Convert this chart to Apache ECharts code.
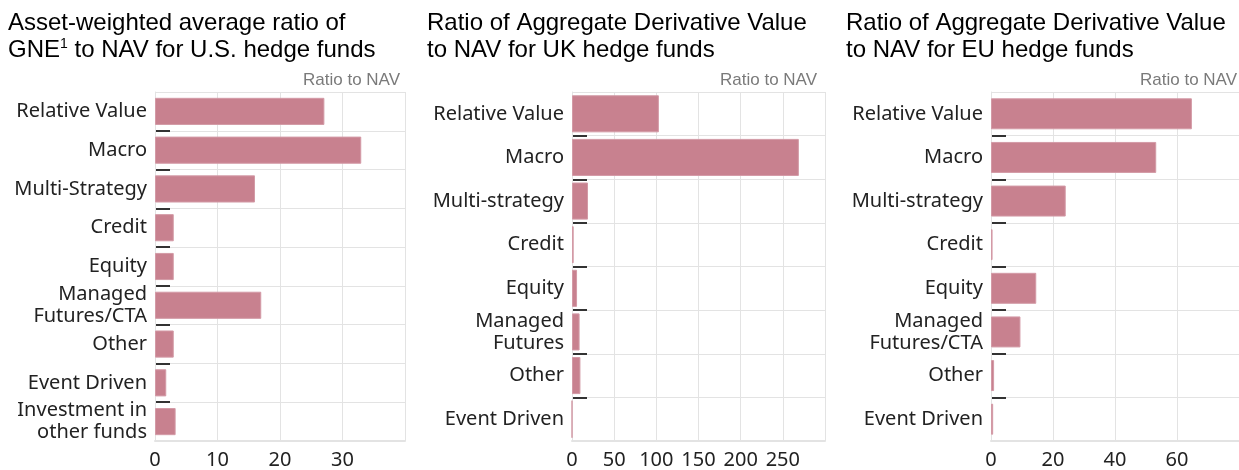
<!DOCTYPE html>
<html>
<head>
<meta charset="utf-8">
<script src="https://cdn.jsdelivr.net/npm/echarts@6/dist/echarts.min.js"></script>
<style>
  html, body { margin: 0; padding: 0; background: #fff; }
  #chart { width: 1239px; height: 470px; }
</style>
</head>
<body>
<div id="chart"></div>
<script>
// ---- data ----
const usCategories = ['Relative Value', 'Macro', 'Multi-Strategy', 'Credit', 'Equity', 'Managed\nFutures/CTA', 'Other', 'Event Driven', 'Investment in\nother funds'];
const usValues = [27.1, 33.0, 16.0, 3.0, 3.0, 17.0, 3.0, 1.8, 3.3];

const ukCategories = ['Relative Value', 'Macro', 'Multi-strategy', 'Credit', 'Equity', 'Managed\nFutures', 'Other', 'Event Driven'];
const ukValues = [103, 269, 19, 2, 6, 9, 10, 0];

const euCategories = ['Relative Value', 'Macro', 'Multi-strategy', 'Credit', 'Equity', 'Managed\nFutures/CTA', 'Other', 'Event Driven'];
const euValues = [64.8, 53.3, 24.1, 0.5, 14.6, 9.5, 1.0, 0.7];

const usTicks = { min: 0, max: 40, interval: 10 };
const ukTicks = { min: 0, max: 300, interval: 50 };
const euTicks = { min: 0, max: 80, interval: 20 };

const titles = [
  'Asset-weighted average ratio of\nGNE{sup|1} to NAV for U.S. hedge funds',
  'Ratio of Aggregate Derivative Value\nto NAV for UK hedge funds',
  'Ratio of Aggregate Derivative Value\nto NAV for EU hedge funds'
];
const unitLabel = 'Ratio to NAV';

// ---- styling ----
const BAR = '#c8818f';
const GRID = '#e3e3e3';
const LABEL_FONT = '"Noto Sans", sans-serif';
const TITLE_FONT = '"Liberation Sans", Arial, sans-serif';

const grids = [
  { left: 155, width: 250, top: 92, height: 350 },
  { left: 572, width: 253, top: 92, height: 350 },
  { left: 991, width: 252, top: 92, height: 350 }
];
const titlePos = [8, 427, 846];
const unitRight = [839, 422, 2];
const gaps = ['30%', '15%', '29%'];

const cats = [usCategories, ukCategories, euCategories];
const vals = [usValues, ukValues, euValues];
const ticks = [usTicks, ukTicks, euTicks];

const option = {
  animation: false,
  backgroundColor: '#fff',
  title: [],
  grid: [],
  xAxis: [],
  yAxis: [],
  series: []
};

for (let i = 0; i < 3; i++) {
  option.title.push({
    text: titles[i],
    left: titlePos[i],
    top: 10,
    padding: 0,
    textStyle: {
      fontFamily: TITLE_FONT,
      fontSize: 24,
      fontWeight: 'normal',
      color: '#000',
      lineHeight: 27,
      rich: {
        sup: { fontFamily: TITLE_FONT, fontSize: 14, verticalAlign: 'top', lineHeight: 25, color: '#000' }
      }
    }
  });
  option.title.push({
    text: unitLabel,
    right: unitRight[i],
    top: 72,
    padding: 0,
    textStyle: {
      fontFamily: TITLE_FONT,
      fontSize: 17,
      fontWeight: 'normal',
      color: '#7a7a7a'
    }
  });
  option.grid.push(Object.assign({ containLabel: false }, grids[i]));
  option.xAxis.push({
    type: 'value',
    gridIndex: i,
    min: ticks[i].min,
    max: ticks[i].max,
    interval: ticks[i].interval,
    z: 2,
    axisLine: { show: true, onZero: false, lineStyle: { color: GRID, width: 2 } },
    axisTick: { show: false },
    splitLine: { show: true, lineStyle: { color: GRID, width: 1 } },
    axisLabel: {
      showMaxLabel: false,
      margin: 9,
      fontFamily: LABEL_FONT,
      fontSize: 20,
      color: '#222'
    }
  });
  option.yAxis.push({
    type: 'category',
    gridIndex: i,
    data: cats[i],
    inverse: true,
    z: 1,
    axisLine: { show: true, lineStyle: { color: GRID, width: 1 } },
    axisTick: {
      show: true,
      inside: true,
      length: 15,
      interval: function (idx) { return idx > 0; },
      lineStyle: { color: '#333', width: 2 }
    },
    splitLine: { show: true, lineStyle: { color: GRID, width: 1 } },
    axisLabel: {
      margin: 8,
      fontFamily: LABEL_FONT,
      fontSize: 20,
      lineHeight: 22,
      color: '#222'
    }
  });
  option.series.push({
    type: 'bar',
    xAxisIndex: i,
    yAxisIndex: i,
    data: vals[i],
    barCategoryGap: gaps[i],
    itemStyle: { color: BAR, borderColor: '#d39aa6', borderWidth: 1 },
    z: 3
  });
}

const chart = echarts.init(document.getElementById('chart'), null, { renderer: 'canvas' });
chart.setOption(option);
</script>
</body>
</html>
